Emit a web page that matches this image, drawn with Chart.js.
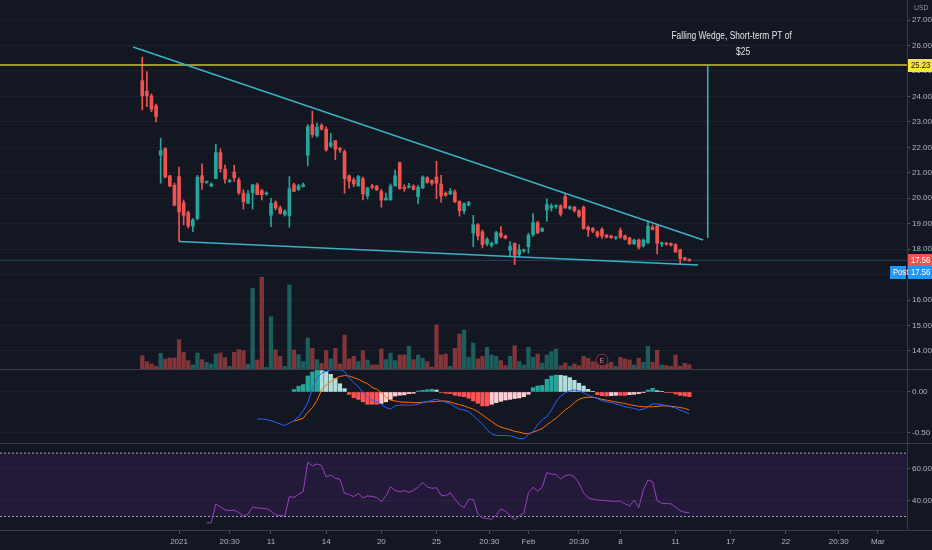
<!DOCTYPE html>
<html>
<head>
<meta charset="utf-8">
<title>Falling Wedge</title>
<script src="https://cdn.jsdelivr.net/npm/chart.js@4.4.1/dist/chart.umd.min.js"></script>
<style>
  html, body { margin: 0; padding: 0; background: #131722; overflow: hidden; }
  #chart { display: block; }
</style>
</head>
<body>
<canvas id="chart" width="932" height="550"></canvas>
<script>
const FONT = "'Liberation Sans', Arial, sans-serif";
Chart.defaults.font.family = FONT;
Chart.defaults.font.size = 8;
Chart.defaults.color = '#b2b5be';

// candles, one per bar (index 0 .. 119)
const OPEN = [
  24.62, 24.20, 24.02, 23.63, 21.69, 21.95, 20.88, 20.51, 20.85, 19.83,
  19.44, 18.91, 19.20, 20.88, 20.62, 20.48, 20.77, 21.79, 21.14, 20.66,
  21.03, 20.72, 20.20, 19.80, 20.22, 20.53, 20.30, 20.17, 19.33, 19.83,
  19.62, 19.36, 19.31, 20.53, 20.35, 20.46, 21.69, 22.89, 22.45, 22.87,
  22.71, 22.05, 22.26, 21.95, 21.83, 20.88, 20.72, 20.48, 20.77, 20.09,
  20.48, 20.48, 20.27, 19.93, 19.93, 20.48, 21.40, 20.43, 20.43, 20.48,
  20.06, 20.40, 20.80, 20.69, 20.83, 20.56, 20.20, 20.17, 20.25, 19.88,
  19.51, 19.73, 18.63, 18.96, 18.68, 18.21, 18.15, 18.23, 18.63, 18.52,
  17.95, 18.23, 17.79, 17.93, 18.10, 18.57, 19.04, 18.71, 19.54, 19.62,
  19.68, 19.70, 20.06, 19.60, 19.65, 19.51, 19.65, 18.86, 18.81, 18.68,
  18.78, 18.55, 18.52, 18.44, 18.73, 18.52, 18.44, 18.21, 18.36, 18.13,
  18.26, 18.86, 18.91, 18.20, 18.23, 18.22, 18.18, 17.97, 17.66, 17.60
];
const HIGH = [
  25.54, 24.97, 24.10, 23.70, 22.36, 21.98, 20.90, 20.60, 21.22, 19.93,
  19.50, 19.20, 20.90, 21.35, 20.68, 20.60, 22.13, 21.94, 21.30, 20.75,
  21.30, 20.80, 20.33, 20.30, 20.53, 20.60, 20.35, 20.25, 20.00, 19.90,
  19.70, 19.55, 20.85, 20.60, 20.55, 20.60, 22.90, 23.42, 22.95, 22.93,
  22.80, 22.55, 22.26, 22.00, 21.90, 20.92, 20.80, 20.90, 20.83, 20.43,
  20.55, 20.50, 20.35, 20.20, 20.56, 21.11, 21.42, 20.53, 20.59, 20.53,
  20.51, 20.88, 20.85, 20.72, 21.45, 20.90, 20.25, 20.38, 20.33, 19.90,
  19.83, 19.88, 19.33, 19.00, 18.75, 18.45, 18.28, 18.70, 18.90, 18.55,
  18.30, 18.25, 18.18, 18.00, 18.63, 19.40, 19.10, 18.85, 19.98, 19.78,
  19.74, 19.75, 20.20, 19.70, 19.68, 19.55, 19.70, 18.92, 18.85, 18.72,
  18.85, 18.58, 18.55, 18.50, 18.83, 18.55, 18.47, 18.40, 18.40, 18.40,
  19.10, 18.95, 18.96, 18.28, 18.26, 18.25, 18.22, 18.00, 17.68, 17.62
];
const LOW = [
  23.47, 23.60, 23.40, 23.00, 20.59, 20.80, 20.45, 19.70, 18.30, 18.95,
  18.83, 18.69, 19.15, 20.35, 20.58, 20.45, 20.77, 21.03, 20.59, 20.62,
  20.66, 20.15, 19.57, 19.80, 19.57, 20.14, 19.93, 20.12, 18.88, 19.55,
  19.38, 19.30, 18.86, 20.27, 20.30, 20.44, 21.27, 22.40, 22.40, 22.68,
  21.85, 22.00, 21.51, 21.80, 20.20, 20.40, 20.45, 20.48, 19.93, 19.97,
  20.37, 20.30, 19.65, 19.93, 19.93, 20.48, 20.35, 20.27, 20.40, 20.33,
  19.78, 20.38, 20.59, 20.51, 19.98, 19.85, 20.07, 20.14, 19.83, 19.30,
  19.38, 19.70, 18.10, 18.36, 18.05, 18.13, 18.08, 18.20, 18.44, 18.40,
  17.72, 17.39, 17.70, 17.87, 17.84, 18.50, 18.60, 18.68, 19.10, 19.50,
  19.60, 19.30, 19.60, 19.55, 19.45, 19.25, 18.78, 18.50, 18.65, 18.45,
  18.42, 18.44, 18.42, 18.38, 18.42, 18.36, 18.18, 18.18, 18.00, 18.08,
  18.22, 18.75, 17.81, 18.10, 18.15, 18.12, 17.87, 17.40, 17.55, 17.52
];
const CLOSE = [
  24.02, 24.02, 23.50, 23.20, 21.87, 20.83, 20.48, 19.73, 19.46, 19.33,
  18.91, 19.15, 20.83, 20.62, 20.65, 20.56, 21.79, 21.16, 20.75, 20.70,
  20.80, 20.22, 19.86, 20.17, 20.53, 20.14, 20.14, 20.20, 19.80, 19.62,
  19.41, 19.49, 20.38, 20.27, 20.48, 20.53, 22.81, 22.50, 22.79, 22.71,
  21.90, 22.18, 21.93, 21.90, 20.77, 20.67, 20.56, 20.85, 20.17, 20.40,
  20.43, 20.33, 19.93, 20.01, 20.48, 20.88, 20.38, 20.38, 20.48, 20.35,
  20.43, 20.83, 20.62, 20.59, 20.59, 20.09, 20.12, 20.27, 19.86, 19.51,
  19.78, 19.83, 18.96, 18.52, 18.18, 18.39, 18.23, 18.65, 18.50, 18.44,
  18.12, 17.76, 17.97, 17.97, 18.55, 19.04, 18.65, 18.81, 19.75, 19.70,
  19.72, 19.38, 19.62, 19.66, 19.51, 19.30, 18.81, 18.76, 18.71, 18.52,
  18.52, 18.47, 18.45, 18.48, 18.47, 18.39, 18.21, 18.36, 18.08, 18.36,
  18.91, 18.78, 18.23, 18.25, 18.20, 18.17, 17.89, 17.63, 17.60, 17.56
];
// volume, thousands of shares
const VOLUME = [
  400, 220, 150, 80, 470, 300, 330, 330, 880, 500,
  250, 120, 480, 280, 200, 150, 450, 480, 340, 80,
  500, 580, 550, 150, 2420, 270, 2750, 50, 1570, 570,
  380, 80, 2520, 570, 430, 220, 930, 620, 280, 170,
  550, 300, 620, 150, 1020, 300, 380, 220, 550, 270,
  120, 120, 600, 280, 480, 250, 420, 420, 680, 280,
  420, 320, 220, 60, 1320, 420, 450, 80, 620, 1050,
  1170, 350, 780, 300, 380, 650, 420, 380, 250, 100,
  380, 700, 220, 120, 650, 350, 450, 180, 420, 520,
  600, 100, 180, 80, 150, 100, 380, 320, 220, 200,
  250, 150, 200, 80, 350, 300, 270, 120, 320, 200,
  680, 200, 560, 120, 100, 80, 420, 80, 170, 130
];

// MACD (12, 26, 9)
const MACD_START = 25;
const MACD = [
  -0.33, -0.33, -0.335, -0.35, -0.37, -0.39, -0.41, -0.38, -0.35, -0.30,
  -0.23, -0.13, 0.04, 0.17, 0.23, 0.25, 0.27, 0.27, 0.27, 0.25,
  0.17, 0.11, 0.065, -0.01, -0.06, -0.10, -0.12, -0.15, -0.19, -0.21,
  -0.17, -0.16, -0.16, -0.16, -0.16, -0.15, -0.13, -0.12, -0.10, -0.09,
  -0.11, -0.125, -0.14, -0.18, -0.21, -0.22, -0.24, -0.29, -0.34, -0.39,
  -0.46, -0.51, -0.53, -0.53, -0.53, -0.535, -0.55, -0.57, -0.57, -0.52,
  -0.48, -0.40, -0.34, -0.30, -0.22, -0.12, -0.05, -0.01, 0.015, 0.025,
  0.015, -0.01, -0.04, -0.06, -0.08, -0.105, -0.12, -0.13, -0.145, -0.16,
  -0.18, -0.19, -0.20, -0.22, -0.21, -0.18, -0.145, -0.145, -0.155, -0.165,
  -0.18, -0.195, -0.22, -0.24, -0.27
];
const SIGNAL_START = 33;
const SIGNAL = [
  -0.355, -0.34, -0.32, -0.25, -0.19, -0.105, 0.025, 0.085, 0.125, 0.165,
  0.19, 0.20, 0.195, 0.175, 0.155, 0.125, 0.10, 0.055, 0.035, -0.01,
  -0.065, -0.10, -0.11, -0.12, -0.125, -0.125, -0.13, -0.13, -0.125, -0.12,
  -0.12, -0.115, -0.11, -0.11, -0.12, -0.14, -0.155, -0.17, -0.19, -0.21,
  -0.24, -0.28, -0.32, -0.36, -0.40, -0.43, -0.445, -0.46, -0.48, -0.49,
  -0.505, -0.51, -0.49, -0.47, -0.445, -0.40, -0.36, -0.32, -0.27, -0.22,
  -0.18, -0.13, -0.09, -0.07, -0.065, -0.065, -0.075, -0.09, -0.10, -0.11,
  -0.12, -0.13, -0.14, -0.155, -0.165, -0.175, -0.18, -0.18, -0.18, -0.175,
  -0.17, -0.17, -0.175, -0.18, -0.19, -0.20, -0.22
];
const HIST = [
  0.03, 0.07, 0.09, 0.195, 0.245, 0.265, 0.26, 0.25, 0.215, 0.165,
  0.10, 0.04, -0.03, -0.07, -0.09, -0.12, -0.15, -0.15, -0.15, -0.14,
  -0.12, -0.09, -0.05, -0.04, -0.035, -0.02, -0.015, 0.012, 0.02, 0.028,
  0.032, 0.024, -0.005, -0.016, -0.02, -0.04, -0.05, -0.057, -0.077, -0.11,
  -0.138, -0.17, -0.17, -0.15, -0.13, -0.114, -0.098, -0.09, -0.08, -0.073,
  -0.057, -0.028, 0.053, 0.073, 0.08, 0.154, 0.195, 0.205, 0.203, 0.195,
  0.175, 0.142, 0.106, 0.073, 0.032, 0.004, -0.033, -0.045, -0.049, -0.045,
  -0.041, -0.041, -0.041, -0.033, -0.028, -0.02, -0.002, 0.024, 0.045, 0.016,
  0.004, -0.004, -0.008, -0.024, -0.041, -0.049, -0.057
];

// RSI (14)
const RSI_START = 14;
const RSI = [
  26.1, 26.0, 37.9, 36.0, 34.2, 33.8, 34.0, 32.5, 30.3, 31.5,
  36.0, 35.5, 35.2, 35.0, 33.5, 31.0, 30.6, 30.3, 42.5, 42.1,
  44.0, 45.7, 64.2, 62.0, 63.2, 62.2, 55.0, 56.2, 54.1, 53.5,
  44.7, 44.0, 42.5, 44.5, 41.8, 43.0, 42.7, 42.0, 39.4, 43.0,
  48.8, 46.3, 45.7, 46.3, 45.3, 46.5, 48.5, 51.4, 48.8, 47.8,
  48.2, 43.5, 43.0, 45.0, 41.0, 37.5, 35.6, 40.9, 40.9, 31.5,
  29.0, 28.8, 28.2, 31.0, 34.7, 33.5, 30.5, 28.0, 30.5, 32.0,
  45.0, 48.5, 46.0, 48.5, 57.7, 56.8, 56.5, 53.7, 55.8, 56.4,
  55.1, 51.0, 45.0, 41.8, 41.0, 40.5, 40.2, 40.0, 39.7, 39.6,
  39.8, 38.0, 36.7, 40.4, 35.6, 46.8, 53.1, 52.0, 40.0, 38.4,
  38.2, 38.0, 36.0, 33.7, 32.7, 32.4
];
const RSI_UPPER = 70;
const RSI_LOWER = 30;

// axes
const TIME_TICKS = [8, 19, 28, 40, 52, 64, 75.5, 84, 95, 104, 116, 128, 140, 151.5, 160];
const TIME_LABELS = ['2021', '20:30', '11', '14', '20', '25', '20:30', 'Feb', '20:30', '8', '11', '17', '22', '20:30', 'Mar'];
const PRICE_TICKS = [14, 15, 16, 17, 18, 19, 20, 21, 22, 23, 24, 25, 26, 27];
const MACD_TICKS = [0, -0.5];
const RSI_TICKS = [40, 60];

// drawings on the price pane, [bar index, price]
const WEDGE_TOP = [[-2, 25.94], [122, 18.36]];
const WEDGE_BOTTOM = [[8, 18.30], [120.9, 17.38]];
const TARGET_MOVE = [[123, 18.44], [123, 25.23]];
const TARGET_PRICE = 25.23;
const LAST_PRICE = 17.56;
const NOTE_LINES = ['Falling Wedge, Short-term PT of', '$25'];
const NOTE_AT = [[128.2, 26.38], [130.7, 25.74]];
const EARNINGS_BAR = 100;

const X_MIN = -30.95, X_MAX = 166.35;
const UP = '#26a69a', DOWN = '#ef5350';
const UP_VOL = 'rgba(38,166,154,0.5)', DOWN_VOL = 'rgba(239,83,80,0.5)';

function isUp(i) { return CLOSE[i] >= OPEN[i]; }
function pts(list) { return list.map(p => ({x: p[0], y: p[1]})); }
function series(start, values) { return values.map((v, k) => ({x: start + k, y: v})); }
function flat(v) { return [{x: X_MIN, y: v}, {x: X_MAX, y: v}]; }

function histColor(k) {
  const v = HIST[k], prev = k > 0 ? HIST[k - 1] : 0;
  if (v >= 0) return v >= prev ? '#26a69a' : '#b2dfdb';
  return v <= prev ? '#ff5252' : '#ffcdd2';
}

function fixWidth(w) {
  return s => { s.width = w; s.paddingTop = 0; s.paddingBottom = 0; };
}
function setTicks(list) {
  return s => { s.ticks = list.map(v => ({value: v})); };
}

const paneAxis = (weight, min, max, list) => ({
  type: 'linear',
  position: 'right',
  stack: 'panes',
  stackWeight: weight,
  offset: false,
  min: min,
  max: max,
  afterBuildTicks: setTicks(list),
  afterFit: fixWidth(25),
  ticks: { padding: 2, callback: v => v.toFixed(2), color: '#b2b5be' },
  grid: { color: '#1c202b', tickLength: 3, tickColor: '#5d606b' },
  border: { color: '#363a45' }
});

// narrow text, squeezed sideways like the platform's condensed font
function narrowText(ctx, text, x, y, align, sx) {
  ctx.save();
  ctx.translate(x, y);
  ctx.scale(sx || 0.82, 1);
  ctx.textAlign = align;
  ctx.textBaseline = 'middle';
  ctx.fillText(text, 0, 0);
  ctx.restore();
}

function tag(ctx, left, py, w, text, bg, fg) {
  ctx.fillStyle = bg;
  ctx.fillRect(left, Math.round(py) - 6, w, 13);
  ctx.fillStyle = fg;
  narrowText(ctx, text, left + 3, Math.round(py) + 0.5, 'left', 0.85);
}

const overlay = {
  id: 'overlay',
  afterDraw(chart) {
    const {ctx, scales} = chart;
    const {x, y, macd, rsi, vol} = scales;
    const W = chart.width;
    const right = chart.chartArea.right;
    ctx.save();

    // pane separators
    ctx.strokeStyle = '#3a3e4a';
    ctx.lineWidth = 1;
    [macd.top, rsi.top, chart.chartArea.bottom].forEach(py => {
      const yy = Math.round(py) + 0.5;
      ctx.beginPath();
      ctx.moveTo(0, yy);
      ctx.lineTo(W, yy);
      ctx.stroke();
    });

    // earnings marker
    const ex = x.getPixelForValue(EARNINGS_BAR);
    const ey = vol.getPixelForValue(270);
    ctx.beginPath();
    ctx.arc(ex, ey, 6, 0, Math.PI * 2);
    ctx.fillStyle = '#131722';
    ctx.fill();
    ctx.strokeStyle = '#8f3442';
    ctx.stroke();
    ctx.fillStyle = '#e07a85';
    ctx.font = '8px ' + FONT;
    narrowText(ctx, 'E', ex, ey + 0.5, 'center', 0.9);

    // note
    ctx.fillStyle = '#e1e3ea';
    ctx.font = '10.5px ' + FONT;
    NOTE_LINES.forEach((t, k) => {
      narrowText(ctx, t, x.getPixelForValue(NOTE_AT[k][0]), y.getPixelForValue(NOTE_AT[k][1]), 'center', 0.8);
    });

    // axis tags
    ctx.font = '8px ' + FONT;
    ctx.fillStyle = '#9598a1';
    narrowText(ctx, 'USD', right + 7, 8, 'left', 0.85);
    ctx.font = '9px ' + FONT;
    tag(ctx, right + 1, y.getPixelForValue(TARGET_PRICE), W - right - 1, TARGET_PRICE.toFixed(2), '#f5e63b', '#131722');
    const lp = y.getPixelForValue(LAST_PRICE);
    tag(ctx, right + 1, lp, W - right - 1, LAST_PRICE.toFixed(2), '#ef5350', '#ffffff');
    tag(ctx, right + 1, lp + 12, W - right - 1, LAST_PRICE.toFixed(2), '#2196f3', '#ffffff');
    tag(ctx, right - 17, lp + 12, 16, 'Post', '#2196f3', '#ffffff');
    ctx.restore();
  }
};

const lineStyle = (color, width) => ({
  type: 'line', borderColor: color, borderWidth: width,
  pointRadius: 0, pointHoverRadius: 0, tension: 0, fill: false
});

new Chart(document.getElementById('chart').getContext('2d'), {
  type: 'bar',
  data: {
    datasets: [
      Object.assign(lineStyle('#38b2c4', 1.5), { yAxisID: 'y', order: 0, data: pts(WEDGE_TOP) }),
      Object.assign(lineStyle('#38b2c4', 1.5), { yAxisID: 'y', order: 0, data: pts(WEDGE_BOTTOM) }),
      Object.assign(lineStyle('#38b2c4', 1.5), { yAxisID: 'y', order: 0, data: pts(TARGET_MOVE) }),
      Object.assign(lineStyle('#cdbf3a', 1.5), { yAxisID: 'y', order: 1, data: flat(TARGET_PRICE) }),
      Object.assign(lineStyle('#26415e', 1), { yAxisID: 'y', order: 6, data: flat(LAST_PRICE) }),
      {
        type: 'bar', yAxisID: 'y', order: 3, grouped: false,
        data: OPEN.map((o, i) => ({x: i, y: [o, CLOSE[i]]})),
        backgroundColor: c => isUp(c.dataIndex) ? UP : DOWN,
        barThickness: 3, minBarLength: 1
      },
      {
        type: 'bar', yAxisID: 'y', order: 4, grouped: false,
        data: LOW.map((l, i) => ({x: i, y: [l, HIGH[i]]})),
        backgroundColor: c => isUp(c.dataIndex) ? UP : DOWN,
        barThickness: 1
      },
      {
        type: 'bar', yAxisID: 'vol', order: 9, grouped: false,
        data: VOLUME.map((v, i) => ({x: i, y: v})),
        backgroundColor: c => isUp(c.dataIndex) ? UP_VOL : DOWN_VOL,
        barThickness: 3.6
      },
      Object.assign(lineStyle('#2962ff', 1), { yAxisID: 'macd', order: 1, data: series(MACD_START, MACD) }),
      Object.assign(lineStyle('#ff6d00', 1), { yAxisID: 'macd', order: 1, data: series(SIGNAL_START, SIGNAL) }),
      {
        type: 'bar', yAxisID: 'macd', order: 5, grouped: false,
        data: series(SIGNAL_START, HIST),
        backgroundColor: c => histColor(c.dataIndex),
        barThickness: 3.6
      },
      Object.assign(lineStyle('#9a3fc0', 1), { yAxisID: 'rsi', order: 1, data: series(RSI_START, RSI) }),
      Object.assign(lineStyle('#a7aab3', 1), {
        yAxisID: 'rsi', order: 8, data: flat(RSI_UPPER), borderDash: [2, 2],
        fill: '+1', backgroundColor: 'rgba(130,50,200,0.15)'
      }),
      Object.assign(lineStyle('#a7aab3', 1), { yAxisID: 'rsi', order: 8, data: flat(RSI_LOWER), borderDash: [2, 2] })
    ]
  },
  options: {
    responsive: false,
    animation: false,
    events: [],
    layout: { padding: 0 },
    plugins: { legend: { display: false }, tooltip: { enabled: false } },
    scales: {
      x: {
        type: 'linear', position: 'bottom', min: X_MIN, max: X_MAX, offset: false,
        afterBuildTicks: setTicks(TIME_TICKS),
        afterFit: s => { s.height = 20; s.paddingLeft = 0; s.paddingRight = 0; },
        ticks: { callback: (v, i) => TIME_LABELS[i], autoSkip: false, maxRotation: 0, padding: 3, color: '#b2b5be' },
        grid: { offset: false, drawOnChartArea: false, tickLength: 4, tickColor: '#4a4e59' },
        border: { color: '#3a3e4a' }
      },
      y: paneAxis(369, 13.293, 27.786, PRICE_TICKS),
      macd: paneAxis(74, -0.622, 0.28, MACD_TICKS),
      rsi: paneAxis(87, 21.5, 76.4, RSI_TICKS),
      vol: { type: 'linear', position: 'right', display: false, min: -4830, max: 11070, offset: false }
    }
  },
  plugins: [overlay]
});
</script>
</body>
</html>
